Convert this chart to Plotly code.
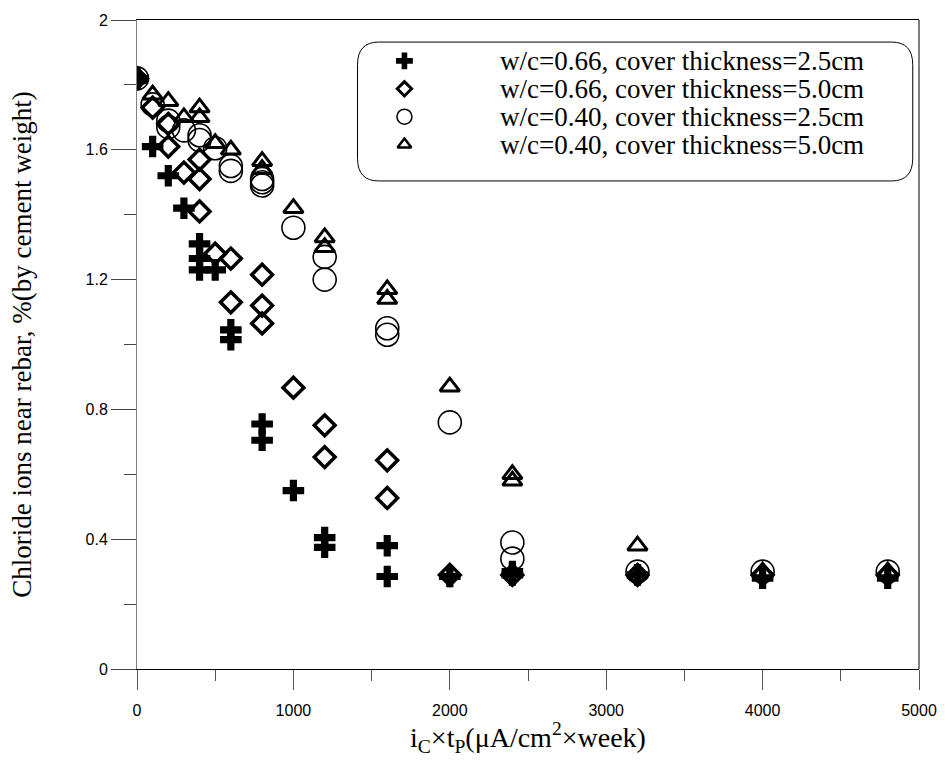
import plotly.graph_objects as go

# Exposure i_C x t_P (uA/cm^2 x week) and chloride near the rebar (% by cement weight)
x_066_25 = [0, 100, 200, 300, 400, 400, 400, 500, 600, 600, 800, 800, 1000,
            1200, 1200, 1600, 1600, 2000, 2400, 2400, 3200, 4000, 4800]
y_066_25 = [1.82, 1.61, 1.52, 1.42, 1.31, 1.265, 1.23, 1.23, 1.045, 1.015, 0.755, 0.705, 0.55,
            0.405, 0.375, 0.38, 0.285, 0.285, 0.30, 0.29, 0.29, 0.28, 0.28]

x_066_50 = [0, 100, 200, 200, 300, 400, 400, 400, 500, 600, 600, 800, 800, 800,
            1000, 1200, 1200, 1600, 1600, 2000, 2400, 3200, 4000, 4800]
y_066_50 = [1.82, 1.73, 1.68, 1.61, 1.53, 1.57, 1.51, 1.41, 1.28, 1.265, 1.13, 1.215, 1.12, 1.065,
            0.867, 0.751, 0.653, 0.643, 0.527, 0.29, 0.29, 0.29, 0.29, 0.29]

x_040_25 = [0, 100, 200, 200, 300, 400, 400, 500, 600, 600, 800, 800, 800,
            1000, 1200, 1200, 1600, 1600, 2000, 2400, 2400, 3200, 4000, 4800]
y_040_25 = [1.82, 1.74, 1.69, 1.67, 1.66, 1.645, 1.63, 1.605, 1.55, 1.535, 1.51, 1.50, 1.49,
            1.36, 1.27, 1.20, 1.05, 1.03, 0.76, 0.39, 0.34, 0.30, 0.30, 0.30]

x_040_50 = [0, 100, 200, 300, 400, 400, 500, 600, 800, 800, 1000, 1200, 1200,
            1600, 1600, 2000, 2400, 2400, 3200, 4000, 4800]
y_040_50 = [1.82, 1.77, 1.75, 1.70, 1.73, 1.70, 1.62, 1.60, 1.565, 1.54, 1.42, 1.33, 1.30,
            1.17, 1.14, 0.87, 0.60, 0.58, 0.38, 0.30, 0.30]

series_names = [
    "w/c=0.66, cover thickness=2.5cm",
    "w/c=0.66, cover thickness=5.0cm",
    "w/c=0.40, cover thickness=2.5cm",
    "w/c=0.40, cover thickness=5.0cm",
]

x_ticks = [0, 1000, 2000, 3000, 4000, 5000]
y_ticks = [0, 0.4, 0.8, 1.2, 1.6, 2]
y_ticktext = ["0", "0.4", "0.8", "1.2", "1.6", "2"]

# marker styles: (symbol, size, line width, legend size, legend line width)
styles = [
    ("cross", 18, 0, 14, 0),
    ("diamond-open", 16, 3.5, 11, 3),
    ("circle-open", 23, 1.6, 15, 1.5),
    ("triangle-up-open", 17, 3, 12, 2.5),
]

data = [(x_066_25, y_066_25), (x_066_50, y_066_50), (x_040_25, y_040_25), (x_040_50, y_040_50)]

fig = go.Figure()
for (xs, ys), (sym, size, lw, _, _), name in zip(data, styles, series_names):
    fig.add_trace(go.Scatter(
        x=xs, y=ys, mode="markers", name=name, showlegend=False,
        marker=dict(symbol=sym, size=size, color="black",
                    line=dict(color="black", width=lw)),
    ))

# legend rows drawn on a hidden overlay axis spanning the plot area
leg_x = 0.342
leg_rows = [0.937, 0.894, 0.851, 0.808]
for (sym, _, _, lsize, llw), ly in zip(styles, leg_rows):
    fig.add_trace(go.Scatter(
        x=[leg_x], y=[ly], mode="markers", xaxis="x2", yaxis="y2", showlegend=False,
        hoverinfo="skip",
        marker=dict(symbol=sym, size=lsize, color="black",
                    line=dict(color="black", width=llw)),
    ))

annotations = []
for name, ly in zip(series_names, leg_rows):
    annotations.append(dict(
        x=0.462, y=ly, xref="paper", yref="paper", xanchor="left", yanchor="middle",
        text=name, showarrow=False,
        font=dict(family="Liberation Serif", size=27, color="black"),
    ))

annotations.append(dict(
    x=0.5, y=-0.139, xref="paper", yref="paper", xanchor="center", yanchor="bottom",
    text="i<sub>C</sub>×t<sub>P</sub>(μA/cm<sup>2</sup>×week)", showarrow=False,
    font=dict(family="Liberation Serif", size=28, color="black"),
))
annotations.append(dict(
    x=-0.148, y=0.5, xref="paper", yref="paper", xanchor="center", yanchor="middle",
    text="Chloride ions near rebar, %(by cement weight)", textangle=-90, showarrow=False,
    font=dict(family="Liberation Serif", size=27, color="black"),
))

shapes = [
    # right frame line
    dict(type="line", xref="paper", yref="paper", x0=1, x1=1, y0=0, y1=1,
         line=dict(color="black", width=1)),
    # rounded legend box
    dict(type="path", xref="paper", yref="paper",
         path="M 0.309,0.966 L 0.965,0.966 Q 0.992,0.966 0.992,0.931 "
              "L 0.992,0.787 Q 0.992,0.752 0.965,0.752 L 0.309,0.752 "
              "Q 0.282,0.752 0.282,0.787 L 0.282,0.931 Q 0.282,0.966 0.309,0.966 Z",
         line=dict(color="black", width=1), fillcolor="rgba(0,0,0,0)"),
]

tick_font = dict(family="Liberation Sans", size=16, color="black")

fig.update_layout(
    width=949, height=762,
    margin=dict(l=137, r=28, t=12, b=93),
    paper_bgcolor="white", plot_bgcolor="white",
    showlegend=False,
    xaxis=dict(
        range=[0, 5000], tickvals=x_ticks, ticks="outside", ticklen=20, tickcolor="#555",
        tickwidth=1, showline=True, linecolor="black", linewidth=1, mirror=True,
        showgrid=False, zeroline=False, tickfont=tick_font, ticklabelstandoff=7,
        minor=dict(dtick=500, ticks="outside", ticklen=11, tickcolor="#555", showgrid=False),
    ),
    yaxis=dict(
        range=[0, 2], tickvals=y_ticks, ticktext=y_ticktext, ticks="outside", ticklen=25,
        tickcolor="#444", tickwidth=1, showline=True, linecolor="#808080", linewidth=1,
        showgrid=False, zeroline=False, tickfont=tick_font,
        minor=dict(dtick=0.2, ticks="outside", ticklen=12, tickcolor="#444", showgrid=False),
    ),
    xaxis2=dict(overlaying="x", range=[0, 1], visible=False),
    yaxis2=dict(overlaying="y", range=[0, 1], visible=False),
    annotations=annotations,
    shapes=shapes,
)

fig.write_html("out.html")
